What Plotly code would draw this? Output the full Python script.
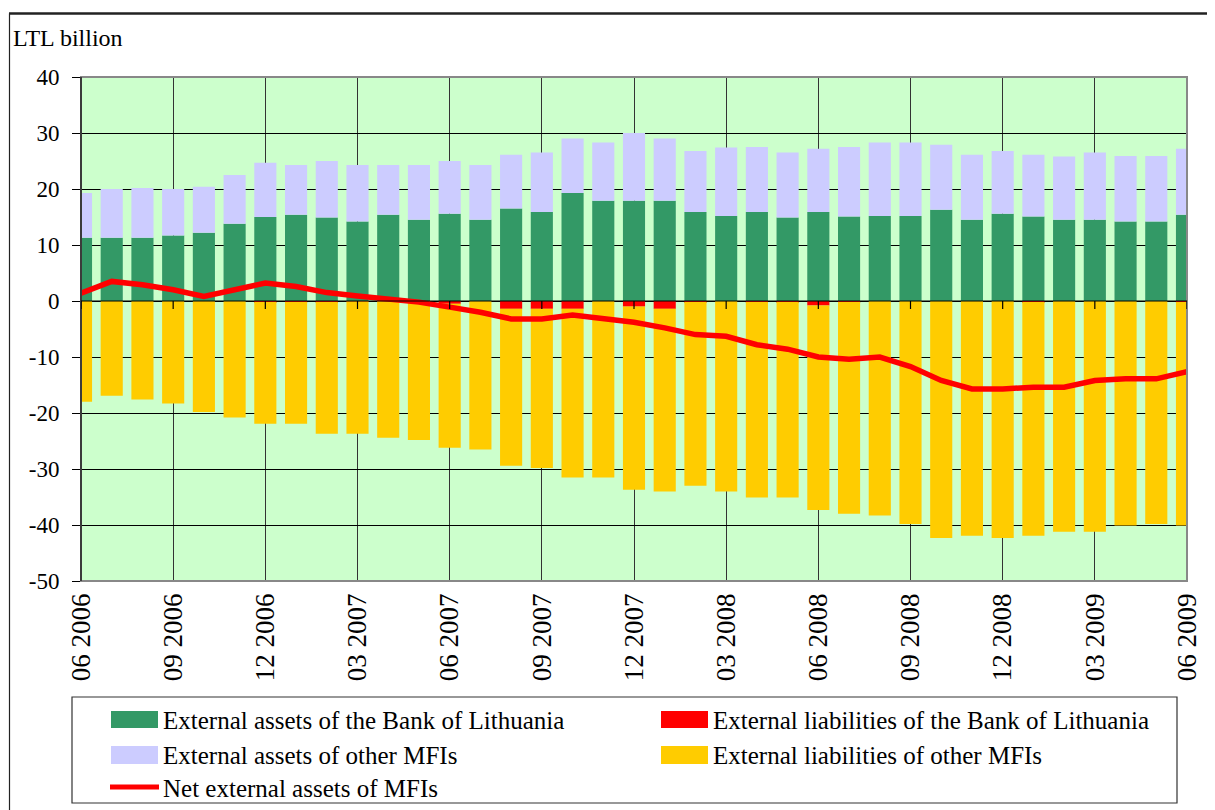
import plotly.graph_objects as go

# ---------------- data ----------------
months = [
    "06 2006", "07 2006", "08 2006", "09 2006", "10 2006", "11 2006", "12 2006",
    "01 2007", "02 2007", "03 2007", "04 2007", "05 2007", "06 2007", "07 2007",
    "08 2007", "09 2007", "10 2007", "11 2007", "12 2007", "01 2008", "02 2008",
    "03 2008", "04 2008", "05 2008", "06 2008", "07 2008", "08 2008", "09 2008",
    "10 2008", "11 2008", "12 2008", "01 2009", "02 2009", "03 2009", "04 2009",
    "05 2009", "06 2009",
]
tick_labels = months[::3]
y_tick_vals = [-50, -40, -30, -20, -10, 0, 10, 20, 30, 40]
y_tick_text = ["-50", "-40", "-30", "-20", "-10", "0", "10", "20", "30", "40"]

assets_bol = [11.3, 11.3, 11.3, 11.7, 12.2, 13.8, 15.0, 15.4, 14.9, 14.2, 15.4, 14.5,
              15.6, 14.5, 16.5, 15.9, 19.3, 17.9, 17.9, 17.9, 15.9, 15.2, 15.9, 14.9,
              15.9, 15.1, 15.2, 15.2, 16.3, 14.5, 15.6, 15.1, 14.5, 14.5, 14.2, 14.2, 15.4]
assets_other = [8.0, 8.7, 8.9, 8.3, 8.2, 8.7, 9.7, 8.9, 10.1, 10.1, 8.9, 9.8,
                9.4, 9.8, 9.6, 10.6, 9.7, 10.4, 12.1, 11.1, 10.9, 12.2, 11.6, 11.6,
                11.3, 12.4, 13.1, 13.1, 11.6, 11.6, 11.2, 11.0, 11.3, 12.0, 11.7, 11.7, 11.8]
liab_bol = [0.0, 0.0, 0.0, 0.0, 0.0, 0.0, -0.2, -0.2, -0.2, -0.05, -0.05, 0.0,
            -0.5, 0.0, -1.4, -1.4, -1.4, 0.0, -1.0, -1.4, -0.2, 0.0, -0.2, -0.2,
            -0.8, -0.2, 0.0, 0.0, 0.0, 0.0, 0.0, -0.2, 0.0, 0.0, 0.0, 0.0, -0.2]
liab_other = [-18.0, -16.9, -17.6, -18.3, -19.8, -20.8, -21.7, -21.7, -23.5, -23.65, -24.35, -24.8,
              -25.7, -26.5, -28.0, -28.4, -30.1, -31.5, -32.7, -32.6, -32.8, -34.0, -34.9, -34.9,
              -36.5, -37.8, -38.3, -39.8, -42.3, -41.9, -42.3, -41.7, -41.2, -41.2, -40.1, -39.8, -39.9]
net_assets = [1.4, 3.5, 2.9, 2.0, 0.8, 2.0, 3.2, 2.6, 1.5, 0.9, 0.3, -0.2,
              -1.1, -2.0, -3.2, -3.2, -2.5, -3.1, -3.8, -4.8, -6.0, -6.3, -7.8, -8.6,
              -10.0, -10.4, -10.0, -11.7, -14.2, -15.7, -15.7, -15.4, -15.4, -14.2, -13.9, -13.9, -12.6]

names = [
    "External assets of the Bank of Lithuania",
    "External liabilities of the Bank of Lithuania",
    "External assets of other MFIs",
    "External liabilities of other MFIs",
    "Net external assets of MFIs",
]
colors = ["#339966", "#FF0000", "#CCCCFF", "#FFCC00", "#FF0000"]

# ---------------- layout geometry (page pixels) ----------------
OFF = 8  # page body margin offset of the figure div
W, H = 1215 - OFF, 810 - OFF
PL, PR, PT, PB = 81, 1187, 77, 581          # plot area in page pixels
ML, MT = PL - OFF, PT - OFF
MR, MB = W - (PR - OFF), H - (PB - OFF)
PW, PH = PR - PL, PB - PT
FONT = "Liberation Serif"


def px(xp):
    return (xp - PL) / PW


def py(yp):
    return (PB - yp) / PH


fig = go.Figure()
bar_w = 0.72
fig.add_trace(go.Bar(x=months, y=assets_bol, name=names[0], marker_color=colors[0],
                     marker_line_width=0, width=bar_w, showlegend=False))
fig.add_trace(go.Bar(x=months, y=liab_bol, name=names[1], marker_color=colors[1],
                     marker_line_width=0, width=bar_w, showlegend=False))
fig.add_trace(go.Bar(x=months, y=assets_other, name=names[2], marker_color=colors[2],
                     marker_line_width=0, width=bar_w, showlegend=False))
fig.add_trace(go.Bar(x=months, y=liab_other, name=names[3], marker_color=colors[3],
                     marker_line_width=0, width=bar_w, showlegend=False))
fig.add_trace(go.Scatter(x=months, y=net_assets, name=names[4], mode="lines",
                         line=dict(color=colors[4], width=5.5), showlegend=False,
                         cliponaxis=True))

shapes = []
# plot-area border (gray)
shapes.append(dict(type="rect", xref="paper", yref="paper", x0=0, x1=1, y0=0, y1=1,
                   line=dict(color="#888888", width=2), layer="above"))
# left axis line
shapes.append(dict(type="line", xref="paper", yref="paper", x0=0, x1=0, y0=0, y1=1,
                   line=dict(color="#222222", width=1.5), layer="above"))
# zero line
shapes.append(dict(type="line", xref="paper", yref="y", x0=0, x1=1, y0=0, y1=0,
                   line=dict(color="black", width=1.2), layer="above"))
# ticks on the zero line
for lab in tick_labels:
    shapes.append(dict(type="line", xref="x", yref="y", x0=lab, x1=lab,
                       ysizemode="pixel", yanchor=0, y0=0, y1=-8,
                       line=dict(color="black", width=1.2), layer="above"))
# outer frame
shapes.append(dict(type="line", xref="paper", yref="paper", x0=px(9), x1=px(1220),
                   y0=py(13.5), y1=py(13.5), line=dict(color="#222222", width=2.5)))
shapes.append(dict(type="line", xref="paper", yref="paper", x0=px(9.5), x1=px(9.5),
                   y0=py(13.5), y1=py(815), line=dict(color="#222222", width=1.2)))
# legend box
shapes.append(dict(type="rect", xref="paper", yref="paper", x0=px(72), x1=px(1177),
                   y0=py(697), y1=py(803), line=dict(color="#333333", width=1.2)))

annotations = [dict(text="LTL billion", xref="paper", yref="paper", x=px(11), y=py(38),
                    xanchor="left", yanchor="middle", showarrow=False,
                    font=dict(family=FONT, size=24, color="black"))]

# custom legend
leg = [
    (0, 111, 158, 711, 728, 720),
    (1, 661, 708, 711, 728, 720),
    (2, 111, 158, 746, 764, 755),
    (3, 661, 708, 746, 764, 755),
]
for idx, x0, x1, y0, y1, yc in leg:
    shapes.append(dict(type="rect", xref="paper", yref="paper", x0=px(x0), x1=px(x1),
                       y0=py(y0), y1=py(y1), fillcolor=colors[idx], line=dict(width=0)))
    annotations.append(dict(text=names[idx], xref="paper", yref="paper", x=px(x1 + 3), y=py(yc),
                            xanchor="left", yanchor="middle", showarrow=False,
                            font=dict(family=FONT, size=25, color="black")))
shapes.append(dict(type="line", xref="paper", yref="paper", x0=px(110), x1=px(159),
                   y0=py(787), y1=py(787), line=dict(color=colors[4], width=5)))
annotations.append(dict(text=names[4], xref="paper", yref="paper", x=px(161), y=py(789),
                        xanchor="left", yanchor="middle", showarrow=False,
                        font=dict(family=FONT, size=25, color="black")))

fig.update_layout(
    width=W, height=H,
    margin=dict(l=ML, r=MR, t=MT, b=MB, pad=0, autoexpand=False),
    paper_bgcolor="white", plot_bgcolor="#CCFFCC",
    barmode="relative",
    showlegend=False,
    font=dict(family=FONT, color="black"),
    shapes=shapes,
    annotations=annotations,
    xaxis=dict(
        type="category", range=[0, len(months) - 1],
        tickmode="array", tickvals=tick_labels, ticktext=tick_labels,
        tickangle=-90, ticks="", showline=False, zeroline=False,
        showgrid=True, gridcolor="#333333", gridwidth=1,
        tickfont=dict(family=FONT, size=27, color="black"),
        ticklabelstandoff=6,
    ),
    yaxis=dict(
        range=[-50, 40], tickmode="array", tickvals=y_tick_vals, ticktext=y_tick_text,
        ticks="outside", ticklen=8, tickcolor="black", tickwidth=1.2,
        showgrid=True, gridcolor="black", gridwidth=1, zeroline=False, showline=False,
        tickfont=dict(family=FONT, size=23, color="black"),
        ticklabelstandoff=8,
    ),
)

fig.write_html("out.html")
